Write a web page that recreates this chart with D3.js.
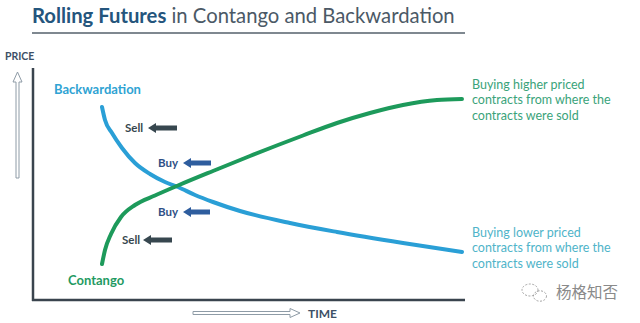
<!DOCTYPE html>
<html><head><meta charset="utf-8">
<script src="https://cdn.jsdelivr.net/npm/d3@7"></script>
<style>html,body{margin:0;padding:0;background:#fff;}svg{display:block;}</style>
</head><body>
<svg id="c" width="640" height="323"></svg>
<script>
// ---- data (time units, price units) ----
const backTime  = [0, 0.3, 1.0, 2.0, 3.3, 4.8, 6.3, 7.6, 9.3, 11.1, 13.8, 18.8, 23.5, 30.1, 36];
const backPrice = [19.3, 18.0, 16.7, 15.2, 13.7, 12.6, 11.8, 11.3, 10.5, 9.8, 8.9, 7.7, 6.8, 5.7, 4.8];
const contTime  = [0, 0.3, 0.9, 1.9, 3.3, 5.3, 7.6, 11.1, 14.8, 20.1, 23.5, 26.8, 30.1, 33.5, 36];
const contPrice = [3.6, 5.0, 6.6, 8.3, 9.5, 10.45, 11.45, 12.9, 14.4, 16.45, 17.7, 18.7, 19.5, 20.0, 20.1];
const seriesNames = ["Backwardation", "Contango"];
const tradeLabels = ["Sell", "Buy", "Buy", "Sell"];
const noteHigher = ["Buying higher priced", "contracts from where the", "contracts were sold"];
const noteLower  = ["Buying lower priced", "contracts from where the", "contracts were sold"];
const axisLabels = ["PRICE", "TIME"];
const titleBold = "Rolling Futures";
const titleRest = " in Contango and Backwardation";
const watermark = "杨格知否";

const svg = d3.select("#c");
const x = d3.scaleLinear().domain([0, 36]).range([102, 462]);
const y = d3.scaleLinear().domain([0, 24]).range([300, 60]);

// title
const title = svg.append("text").attr("x", 32).attr("y", 23)
  .attr("font-family", "Lato").attr("font-size", 19.5);
title.append("tspan").attr("font-weight", 700).attr("fill", "#24557d").text(titleBold);
title.append("tspan").attr("font-weight", 400).attr("fill", "#4b5966").text(titleRest);
const tw = title.node().getComputedTextLength();
title.attr("font-size", 19.5 * 423 / tw);
svg.append("line").attr("x1", 32).attr("x2", 465).attr("y1", 33).attr("y2", 33)
  .attr("stroke", "#55606b").attr("stroke-width", 1.5);

// axes
svg.append("line").attr("x1", 33).attr("x2", 33).attr("y1", 68).attr("y2", 301)
  .attr("stroke", "#3a444e").attr("stroke-width", 2.5);
svg.append("line").attr("x1", 32).attr("x2", 465).attr("y1", 300).attr("y2", 300)
  .attr("stroke", "#3a444e").attr("stroke-width", 2.5);

// hollow arrows
svg.append("path")
  .attr("d", "M16,178 L16,82 L13,82 L17.5,72 L22,82 L19,82 L19,178 Z")
  .attr("fill", "#fff").attr("stroke", "#8e9ba6").attr("stroke-width", 1);
svg.append("path")
  .attr("d", "M193,311.5 L290,311.5 L290,308.5 L300,313 L290,317.5 L290,314.5 L193,314.5 Z")
  .attr("fill", "#fff").attr("stroke", "#8e9ba6").attr("stroke-width", 1);

svg.append("text").attr("x", 5).attr("y", 60).attr("font-family", "Lato")
  .attr("font-weight", 700).attr("font-size", 10.5).attr("fill", "#3d5066").text(axisLabels[0]);
svg.append("text").attr("x", 308).attr("y", 317.5).attr("font-family", "Lato")
  .attr("font-weight", 700).attr("font-size", 12).attr("fill", "#3d5066").text(axisLabels[1]);

// curves
const line = d3.line().x(d => x(d[0])).y(d => y(d[1])).curve(d3.curveMonotoneX);
svg.append("path").datum(backTime.map((t, i) => [t, backPrice[i]]))
  .attr("d", line).attr("fill", "none").attr("stroke", "#2a9fd6")
  .attr("stroke-width", 4).attr("stroke-linecap", "round");
svg.append("path").datum(contTime.map((t, i) => [t, contPrice[i]]))
  .attr("d", line).attr("fill", "none").attr("stroke", "#1d9a5b")
  .attr("stroke-width", 4).attr("stroke-linecap", "round");

// series labels
svg.append("text").attr("x", 54).attr("y", 93.5).attr("font-family", "Lato")
  .attr("font-weight", 700).attr("font-size", 13).attr("fill", "#2fa3d3").text(seriesNames[0]);
svg.append("text").attr("x", 68).attr("y", 284.5).attr("font-family", "Lato")
  .attr("font-weight", 700).attr("font-size", 13).attr("fill", "#1f9a62").text(seriesNames[1]);

// trade arrows
const tradeSpots = [
  {tx: 125, ty: 128, a0: 148, a1: 177, c: "#37474f"},
  {tx: 158, ty: 163, a0: 183, a1: 211, c: "#2e5d9e"},
  {tx: 158, ty: 212, a0: 183, a1: 210, c: "#2e5d9e"},
  {tx: 122, ty: 240, a0: 143, a1: 172, c: "#37474f"}
];
tradeSpots.forEach((s, i) => {
  svg.append("text").attr("x", s.tx).attr("y", s.ty + 4).attr("font-family", "Lato")
    .attr("font-weight", 700).attr("font-size", 11.5)
    .attr("fill", i % 3 === 0 ? "#37474f" : "#2e4f85").text(tradeLabels[i]);
  svg.append("path")
    .attr("d", `M${s.a0},${s.ty} L${s.a0 + 8},${s.ty - 5} L${s.a0 + 8},${s.ty - 2.5} L${s.a1},${s.ty - 2.5} L${s.a1},${s.ty + 2.5} L${s.a0 + 8},${s.ty + 2.5} L${s.a0 + 8},${s.ty + 5} Z`)
    .attr("fill", s.c);
});

// notes
function note(lines, y0, color) {
  lines.forEach((t, i) => {
    svg.append("text").attr("x", 472).attr("y", y0 + i * 15.7).attr("font-family", "Lato")
      .attr("font-size", 12.5).attr("fill", color).text(t);
  });
}
note(noteHigher, 88.5, "#3aa37a");
note(noteLower, 236.5, "#4fb4c9");

// watermark
const wm = svg.append("g").attr("fill", "none").attr("stroke", "#9a9a9a").attr("stroke-width", 0.9)
  .attr("stroke-dasharray", "2,1.5");
wm.append("ellipse").attr("cx", 530).attr("cy", 290).attr("rx", 8).attr("ry", 6);
wm.append("ellipse").attr("cx", 540).attr("cy", 296).attr("rx", 6.5).attr("ry", 5.2);
svg.append("text").attr("x", 556).attr("y", 298).attr("font-family", "Noto Sans CJK SC")
  .attr("font-size", 15.5).attr("fill", "#8a8a8a").text(watermark);
</script>
</body></html>
